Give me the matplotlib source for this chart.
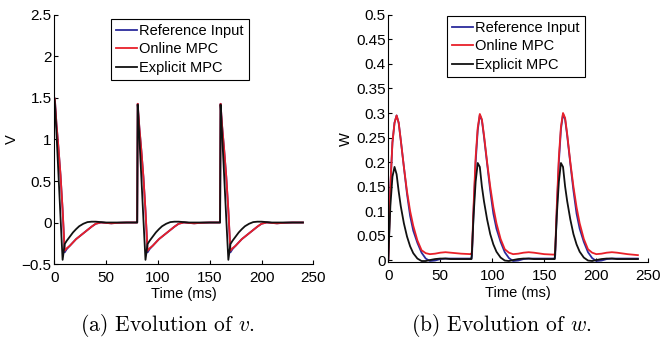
import numpy as np
import matplotlib
matplotlib.use("Agg")
import matplotlib.pyplot as plt

plt.rcParams["font.family"] = "Liberation Sans"
plt.rcParams["mathtext.fontset"] = "cm"

# -----------------------------
# Data
# -----------------------------

time_ms = [0, 0.5, 2, 4, 6, 8, 10, 12, 15, 18, 21, 24, 28, 32, 36, 40, 45, 50, 55, 60, 70, 79.5,
           80, 80.5, 82, 84, 86, 88, 90, 92, 95, 98, 101, 104, 108, 112, 116, 120, 125, 130, 135, 140, 150, 159.5,
           160, 160.5, 162, 164, 166, 168, 170, 172, 175, 178, 181, 184, 188, 192, 196, 200, 205, 210, 215, 220, 230, 240]

v_reference = [1.50, 1.49, 1.20, 0.90, 0.57, 0.15, -0.36, -0.32, -0.28, -0.24, -0.20, -0.17, -0.13, -0.09, -0.05, -0.015, 0.0, -0.005, -0.01, -0.005, 0.0, 0.0,
               0.0, 1.43, 1.16, 0.87, 0.55, 0.14, -0.36, -0.32, -0.28, -0.24, -0.20, -0.17, -0.13, -0.09, -0.05, -0.015, 0.0, -0.005, -0.01, -0.005, 0.0, 0.0,
               0.0, 1.43, 1.16, 0.87, 0.55, 0.14, -0.36, -0.32, -0.28, -0.24, -0.20, -0.17, -0.13, -0.09, -0.05, -0.015, 0.0, -0.005, -0.01, -0.005, 0.0, 0.0]

v_online = [1.50, 1.49, 1.20, 0.90, 0.57, 0.16, -0.34, -0.31, -0.28, -0.24, -0.20, -0.17, -0.13, -0.09, -0.05, -0.015, 0.0, -0.005, -0.01, -0.005, 0.0, 0.0,
            0.0, 1.43, 1.16, 0.87, 0.55, 0.15, -0.34, -0.31, -0.28, -0.24, -0.20, -0.17, -0.13, -0.09, -0.05, -0.015, 0.0, -0.005, -0.01, -0.005, 0.0, 0.0,
            0.0, 1.43, 1.16, 0.87, 0.55, 0.15, -0.34, -0.31, -0.28, -0.24, -0.20, -0.17, -0.13, -0.09, -0.05, -0.015, 0.0, -0.005, -0.01, -0.005, 0.0, 0.0]

v_explicit = [1.50, 1.45, 1.10, 0.58, 0.06, -0.45, -0.26, -0.22, -0.17, -0.12, -0.08, -0.045, -0.015, 0.005, 0.01, 0.01, 0.005, 0.0, 0.0, 0.0, 0.0, 0.0,
              0.0, 1.42, 1.05, 0.55, 0.04, -0.45, -0.26, -0.22, -0.17, -0.12, -0.08, -0.045, -0.015, 0.005, 0.01, 0.01, 0.005, 0.0, 0.0, 0.0, 0.0, 0.0,
              0.0, 1.42, 1.05, 0.55, 0.04, -0.45, -0.26, -0.22, -0.17, -0.12, -0.08, -0.045, -0.015, 0.005, 0.01, 0.01, 0.005, 0.0, 0.0, 0.0, 0.0, 0.0]

w_reference = [0.0, 0.03, 0.15, 0.24, 0.28, 0.295, 0.28, 0.245, 0.19, 0.135, 0.09, 0.06, 0.035, 0.015, 0.003, -0.002, -0.001, 0.002, 0.003, 0.003, 0.003, 0.003,
               0.003, 0.01, 0.10, 0.20, 0.265, 0.296, 0.285, 0.252, 0.197, 0.142, 0.095, 0.064, 0.037, 0.016, 0.004, -0.002, -0.001, 0.002, 0.003, 0.003, 0.003, 0.003,
               0.003, 0.01, 0.10, 0.20, 0.267, 0.298, 0.287, 0.254, 0.197, 0.142, 0.095, 0.064, 0.037, 0.016, 0.004, -0.002, -0.001, 0.002, 0.003, 0.003, 0.003, 0.003]

w_online = [0.0, 0.03, 0.15, 0.24, 0.28, 0.295, 0.28, 0.245, 0.19, 0.14, 0.10, 0.07, 0.04, 0.02, 0.014, 0.012, 0.013, 0.015, 0.016, 0.015, 0.013, 0.012,
            0.012, 0.02, 0.11, 0.21, 0.27, 0.298, 0.287, 0.255, 0.20, 0.15, 0.108, 0.075, 0.043, 0.022, 0.015, 0.012, 0.013, 0.015, 0.016, 0.015, 0.012, 0.011,
            0.011, 0.02, 0.11, 0.21, 0.272, 0.300, 0.290, 0.257, 0.20, 0.15, 0.108, 0.075, 0.043, 0.022, 0.015, 0.012, 0.013, 0.015, 0.016, 0.015, 0.012, 0.010]

w_explicit = [0.0, 0.03, 0.11, 0.17, 0.19, 0.175, 0.14, 0.11, 0.075, 0.048, 0.028, 0.014, 0.003, -0.002, -0.002, 0.0, 0.002, 0.003, 0.003, 0.002, 0.002, 0.002,
              0.002, 0.02, 0.09, 0.16, 0.198, 0.19, 0.15, 0.12, 0.083, 0.053, 0.032, 0.017, 0.005, -0.001, -0.002, 0.0, 0.002, 0.003, 0.003, 0.002, 0.002, 0.002,
              0.002, 0.02, 0.09, 0.16, 0.198, 0.19, 0.15, 0.12, 0.083, 0.053, 0.032, 0.017, 0.005, -0.001, -0.002, 0.0, 0.002, 0.003, 0.003, 0.002, 0.002, 0.002]

series_names = ["Reference Input", "Online MPC", "Explicit MPC"]
series_colors = ["#2b2b9c", "#e8202a", "#111111"]

x_ticks = [0, 50, 100, 150, 200, 250]
v_ticks = [-0.5, 0, 0.5, 1, 1.5, 2, 2.5]
v_tick_labels = ["\u22120.5", "0", "0.5", "1", "1.5", "2", "2.5"]
w_ticks = [0, 0.05, 0.1, 0.15, 0.2, 0.25, 0.3, 0.35, 0.4, 0.45, 0.5]
w_tick_labels = ["0", "0.05", "0.1", "0.15", "0.2", "0.25", "0.3", "0.35", "0.4", "0.45", "0.5"]

# -----------------------------
# Figure
# -----------------------------

fig = plt.figure(figsize=(6.6, 3.39), dpi=100)
ax_v = fig.add_axes([0.0823, 0.2212, 0.3924, 0.7346])
ax_w = fig.add_axes([0.5883, 0.2257, 0.3940, 0.7301])


def style_axis(ax, yticks, ylabels, ylim, ylabel, anchor):
    ax.set_xlim(0, 250)
    ax.set_ylim(*ylim)
    ax.set_xticks(x_ticks)
    ax.set_xticklabels([str(t) for t in x_ticks])
    ax.set_yticks(yticks)
    ax.set_yticklabels(ylabels)
    ax.spines["top"].set_visible(False)
    ax.spines["right"].set_visible(False)
    ax.spines["left"].set_linewidth(0.8)
    ax.spines["bottom"].set_linewidth(0.8)
    ax.tick_params(direction="in", length=3, width=0.8, labelsize=11)
    ax.tick_params(axis="y", pad=2)
    ax.tick_params(axis="x", pad=5)
    ax.set_xlabel("Time (ms)", fontsize=10.5, labelpad=1.5)
    ax.set_ylabel(ylabel, fontsize=10.5, labelpad=2)
    leg = ax.legend(loc="upper right", bbox_to_anchor=anchor, fontsize=10.5,
                    frameon=True, fancybox=False, framealpha=1,
                    handlelength=1.45, handletextpad=0.15, labelspacing=0.3,
                    borderpad=0.35, borderaxespad=0)
    leg.get_frame().set_edgecolor("black")
    leg.get_frame().set_linewidth(0.8)


for vals, name, col in zip([v_reference, v_online, v_explicit], series_names, series_colors):
    ax_v.plot(time_ms, vals, color=col, lw=1.3, label=name)

for vals, name, col in zip([w_reference, w_online, w_explicit], series_names, series_colors):
    ax_w.plot(time_ms, vals, color=col, lw=1.3, label=name)

style_axis(ax_v, v_ticks, v_tick_labels, (-0.5, 2.5), "V", (0.752, 0.984))
style_axis(ax_w, w_ticks, w_tick_labels, (-0.005, 0.5), "W", (0.7565, 0.996))

fig.text(0.253, 0.041, "(a) Evolution of $v$.", ha="center", va="center",
         fontsize=15.5, family="cmr10")
fig.text(0.759, 0.041, "(b) Evolution of $w$.", ha="center", va="center",
         fontsize=15.5, family="cmr10")

plt.savefig("out.png", dpi=100)
